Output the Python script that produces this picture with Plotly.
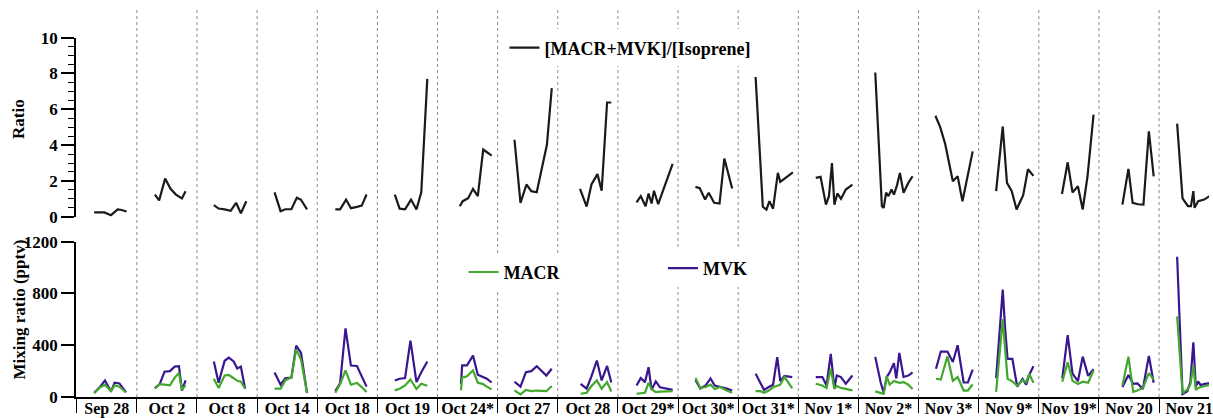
import plotly.graph_objects as go

# ---------------- data ----------------
day_labels = ["Sep 28", "Oct 2", "Oct 8", "Oct 14", "Oct 18", "Oct 19", "Oct 24*", "Oct 27",
              "Oct 28", "Oct 29*", "Oct 30*", "Oct 31*", "Nov 1*", "Nov 2*", "Nov 3*",
              "Nov 9*", "Nov 19*", "Nov 20", "Nov 21"]

# time of sample within each day (fraction of day)
ratio_t = [
    [0.29, 0.46, 0.57, 0.68, 0.73, 0.83],
    [0.30, 0.37, 0.47, 0.56, 0.65, 0.75, 0.81],
    [0.28, 0.36, 0.46, 0.56, 0.65, 0.73, 0.82],
    [0.29, 0.39, 0.47, 0.57, 0.66, 0.73, 0.83],
    [0.30, 0.38, 0.48, 0.56, 0.66, 0.74, 0.82],
    [0.29, 0.37, 0.46, 0.56, 0.65, 0.73, 0.83],
    [0.37, 0.42, 0.51, 0.59, 0.67, 0.76, 0.84, 0.90],
    [0.28, 0.38, 0.48, 0.56, 0.65, 0.82, 0.90],
    [0.37, 0.48, 0.56, 0.66, 0.73, 0.82, 0.89],
    [0.31, 0.38, 0.46, 0.51, 0.56, 0.60, 0.67, 0.91],
    [0.29, 0.36, 0.45, 0.51, 0.60, 0.69, 0.77, 0.90],
    [0.29, 0.41, 0.47, 0.52, 0.58, 0.66, 0.70, 0.91],
    [0.29, 0.37, 0.46, 0.51, 0.56, 0.60, 0.65, 0.71, 0.79, 0.90],
    [0.28, 0.39, 0.42, 0.46, 0.50, 0.55, 0.59, 0.64, 0.69, 0.75, 0.83, 0.90],
    [0.28, 0.36, 0.44, 0.51, 0.57, 0.65, 0.73, 0.90],
    [0.29, 0.40, 0.47, 0.55, 0.63, 0.74, 0.82, 0.91],
    [0.385, 0.48, 0.56, 0.65, 0.73, 0.81, 0.91],
    [0.39, 0.49, 0.56, 0.65, 0.74, 0.83, 0.91],
    [0.30, 0.39, 0.48, 0.53, 0.57, 0.59, 0.65, 0.75, 0.84],
]
ratio_v = [
    [0.24, 0.24, 0.09, 0.41, 0.39, 0.29],
    [1.24, 0.91, 2.13, 1.56, 1.24, 1.02, 1.42],
    [0.65, 0.46, 0.41, 0.33, 0.78, 0.20, 0.87],
    [1.36, 0.31, 0.42, 0.42, 1.06, 0.95, 0.41],
    [0.41, 0.41, 0.96, 0.48, 0.55, 0.62, 1.24],
    [1.24, 0.45, 0.41, 0.96, 0.41, 1.37, 7.70],
    [0.59, 0.87, 1.04, 1.56, 1.15, 3.75, 3.56, 3.41],
    [4.30, 0.78, 1.80, 1.43, 1.37, 4.03, 7.18],
    [1.56, 0.57, 1.80, 2.38, 1.45, 6.38, 6.38],
    [0.81, 1.15, 0.59, 1.30, 0.74, 1.45, 0.70, 2.95],
    [1.67, 1.60, 0.96, 1.34, 0.78, 0.74, 3.25, 1.58],
    [7.80, 0.56, 0.40, 0.87, 0.45, 2.45, 1.95, 2.48],
    [2.17, 2.23, 0.68, 1.15, 3.00, 0.68, 1.30, 1.00, 1.52, 1.80],
    [8.05, 0.59, 0.50, 1.34, 1.15, 1.52, 1.24, 1.74, 2.45, 1.34, 1.89, 2.26],
    [5.64, 5.00, 4.10, 3.00, 1.98, 2.26, 0.87, 3.65],
    [1.43, 5.04, 1.89, 1.43, 0.41, 1.20, 2.65, 2.28],
    [1.27, 3.04, 1.36, 1.70, 0.41, 2.26, 5.70],
    [0.68, 2.67, 0.78, 0.70, 0.68, 4.77, 2.26],
    [5.20, 1.03, 0.59, 0.59, 1.43, 0.50, 0.87, 0.96, 1.15],
]

mix_t = [
    [0.29, 0.39, 0.47, 0.57, 0.63, 0.71, 0.82],
    [0.30, 0.38, 0.46, 0.55, 0.63, 0.70, 0.75, 0.81],
    [0.28, 0.36, 0.46, 0.53, 0.61, 0.67, 0.73, 0.80],
    [0.29, 0.39, 0.47, 0.57, 0.65, 0.73, 0.83],
    [0.30, 0.38, 0.47, 0.56, 0.66, 0.74, 0.82],
    [0.29, 0.37, 0.46, 0.55, 0.65, 0.73, 0.83],
    [0.39, 0.41, 0.49, 0.59, 0.67, 0.75, 0.82, 0.90],
    [0.28, 0.38, 0.47, 0.56, 0.65, 0.73, 0.81, 0.90],
    [0.38, 0.48, 0.56, 0.65, 0.73, 0.82, 0.89],
    [0.31, 0.38, 0.45, 0.51, 0.56, 0.63, 0.70, 0.91],
    [0.29, 0.37, 0.46, 0.54, 0.61, 0.70, 0.81, 0.90],
    [0.29, 0.37, 0.43, 0.51, 0.58, 0.65, 0.70, 0.77, 0.90],
    [0.29, 0.40, 0.47, 0.54, 0.60, 0.64, 0.71, 0.79, 0.90],
    [0.28, 0.37, 0.42, 0.47, 0.52, 0.59, 0.63, 0.68, 0.75, 0.83, 0.90],
    [0.29, 0.37, 0.48, 0.57, 0.65, 0.75, 0.82, 0.90],
    [0.29, 0.40, 0.44, 0.48, 0.56, 0.64, 0.73, 0.79, 0.84, 0.91],
    [0.39, 0.48, 0.56, 0.65, 0.73, 0.82, 0.91],
    [0.39, 0.49, 0.57, 0.64, 0.73, 0.83, 0.91],
    [0.30, 0.39, 0.47, 0.52, 0.57, 0.61, 0.65, 0.69, 0.76, 0.84],
]
mvk_v = [
    [33, 80, 128, 43, 110, 105, 38],
    [69, 100, 195, 200, 235, 238, 50, 128],
    [274, 110, 280, 305, 275, 220, 235, 64],
    [190, 95, 145, 150, 397, 340, 30],
    [45, 105, 530, 243, 240, 160, 80],
    [128, 141, 146, 435, 115, 192, 274],
    [100, 245, 245, 320, 172, 158, 141, 112],
    [118, 80, 192, 200, 238, 200, 166, 218],
    [102, 64, 160, 282, 128, 240, 112],
    [89, 146, 115, 230, 55, 120, 75, 55],
    [130, 66, 90, 143, 88, 80, 66, 50],
    [179, 106, 55, 77, 95, 308, 122, 163, 154],
    [154, 154, 89, 333, 69, 166, 154, 102, 166],
    [310, 112, 35, 154, 190, 262, 143, 341, 155, 166, 190],
    [218, 351, 351, 270, 400, 112, 112, 212],
    [146, 830, 525, 295, 295, 80, 140, 95, 170, 238],
    [143, 479, 180, 122, 312, 163, 215],
    [77, 170, 102, 105, 62, 318, 110],
    [1084, 22, 45, 115, 423, 80, 120, 92, 102, 106],
]
macr_v = [
    [30, 75, 95, 45, 90, 80, 35],
    [65, 100, 95, 90, 150, 185, 55, 92],
    [141, 69, 166, 170, 145, 125, 118, 65],
    [64, 64, 130, 150, 368, 290, 32],
    [33, 100, 205, 95, 108, 77, 38],
    [51, 64, 89, 135, 62, 102, 87],
    [51, 150, 160, 205, 110, 102, 80, 59],
    [51, 20, 55, 45, 50, 45, 45, 85],
    [25, 33, 85, 128, 64, 115, 43],
    [25, 28, 33, 110, 60, 38, 42, 46],
    [146, 69, 77, 95, 62, 77, 51, 33],
    [45, 45, 33, 50, 75, 85, 95, 155, 66],
    [102, 89, 69, 218, 64, 85, 70, 64, 51],
    [43, 30, 25, 160, 95, 124, 115, 110, 115, 95, 62],
    [141, 135, 315, 125, 154, 50, 50, 98],
    [40, 602, 370, 140, 120, 87, 130, 115, 179, 110],
    [118, 269, 125, 100, 118, 110, 205],
    [89, 312, 40, 50, 70, 185, 135],
    [623, 30, 58, 95, 243, 55, 70, 77, 85, 92],
]


def flatten(times, values):
    xs, ys = [], []
    for d, (tt, vv) in enumerate(zip(times, values)):
        xs += [d + t for t in tt] + [None]
        ys += list(vv) + [None]
    return xs, ys


FONT = "Liberation Serif"
n_days = len(day_labels)

fig = go.Figure()
rx, ry = flatten(ratio_t, ratio_v)
fig.add_trace(go.Scatter(x=rx, y=ry, mode="lines", name="[MACR+MVK]/[Isoprene]",
                         line=dict(color="#1a1a1a", width=2.2), yaxis="y2", legend="legend",
                         connectgaps=False))
mx, my = flatten(mix_t, mvk_v)
fig.add_trace(go.Scatter(x=mx, y=my, mode="lines", name="MVK",
                         line=dict(color="#3a1590", width=2.2), yaxis="y", legend="legend3",
                         connectgaps=False))
ax, ay = flatten(mix_t, macr_v)
fig.add_trace(go.Scatter(x=ax, y=ay, mode="lines", name="MACR",
                         line=dict(color="#42a82d", width=2.2), yaxis="y", legend="legend2",
                         connectgaps=False))

# dotted day separators
for d in range(1, n_days):
    fig.add_shape(type="line", xref="x", yref="paper", x0=d, x1=d, y0=0, y1=1,
                  line=dict(color="#8a8a8a", width=1, dash="dot"), layer="below")

W, H = 1213, 418
ML, MR, MT, MB = 76, 0, 10, 20
ph = H - MT - MB
pw = W - ML - MR


def py(pix):
    return (H - MB - pix) / ph


def px(pix):
    return (pix - ML) / pw


tick_font = dict(family=FONT, size=17, color="black", weight="bold")
legend_font = dict(family=FONT, size=18, color="black", weight="bold")

fig.update_layout(
    width=W, height=H,
    margin=dict(l=ML, r=MR, t=MT, b=MB),
    paper_bgcolor="white", plot_bgcolor="white",
    xaxis=dict(domain=[0, 1], range=[-0.012, 18.83], anchor="y",
               showline=True, linecolor="black", linewidth=1.5,
               tickmode="array", tickvals=[d + 0.5 for d in range(n_days)],
               ticktext=day_labels, ticks="", showgrid=False, zeroline=False,
               ticklabelstandoff=-4, ticklabeloverflow="allow",
               tickfont=dict(family=FONT, size=16, color="black", weight="bold"),
               minor=dict(tickmode="array", tickvals=list(range(n_days + 1)),
                          ticks="outside", ticklen=14, tickcolor="black", tickwidth=1.2,
                          showgrid=False)),
    yaxis=dict(domain=[0, py(242.3)], range=[0, 1200], anchor="x",
               tickmode="array", tickvals=[0, 400, 800, 1200],
               ticks="outside", ticklen=13, tickwidth=1.5, tickcolor="black",
               showline=True, linecolor="black", linewidth=1.5,
               showgrid=False, zeroline=False, tickfont=tick_font),
    yaxis2=dict(domain=[py(217.3), py(37.7)], range=[0, 10], anchor="x",
                tickmode="array", tickvals=[0, 2, 4, 6, 8, 10],
                ticks="outside", ticklen=13, tickwidth=1.5, tickcolor="black",
                showline=True, linecolor="black", linewidth=1.5,
                showgrid=False, zeroline=False, tickfont=tick_font,
                minor=dict(tickmode="linear", tick0=0, dtick=0.5, ticks="outside",
                           ticklen=6, tickcolor="black", tickwidth=1.2, showgrid=False)),
    legend=dict(x=px(506), y=py(48), xanchor="left", yanchor="middle",
                bgcolor="white", borderwidth=0, font=legend_font),
    legend2=dict(x=px(465), y=py(273), xanchor="left", yanchor="middle",
                 bgcolor="white", borderwidth=0, font=legend_font),
    legend3=dict(x=px(665), y=py(269), xanchor="left", yanchor="middle",
                 bgcolor="white", borderwidth=0, font=legend_font),
    showlegend=True,
)

fig.add_annotation(text="Ratio", xref="paper", yref="paper", x=px(19), y=py(119),
                   xanchor="center", yanchor="middle",
                   showarrow=False, textangle=-90,
                   font=dict(family=FONT, size=17, color="black", weight="bold"))
fig.add_annotation(text="Mixing ratio (pptv)", xref="paper", yref="paper", x=px(19), y=py(310),
                   xanchor="center", yanchor="middle",
                   showarrow=False, textangle=-90,
                   font=dict(family=FONT, size=17, color="black", weight="bold"))

# remove the browser's default page margin so the figure sits at the page origin
fig.write_html("out.html", config={"displayModeBar": False},
               post_script="document.body.style.margin='0';document.body.style.overflow='hidden';")
